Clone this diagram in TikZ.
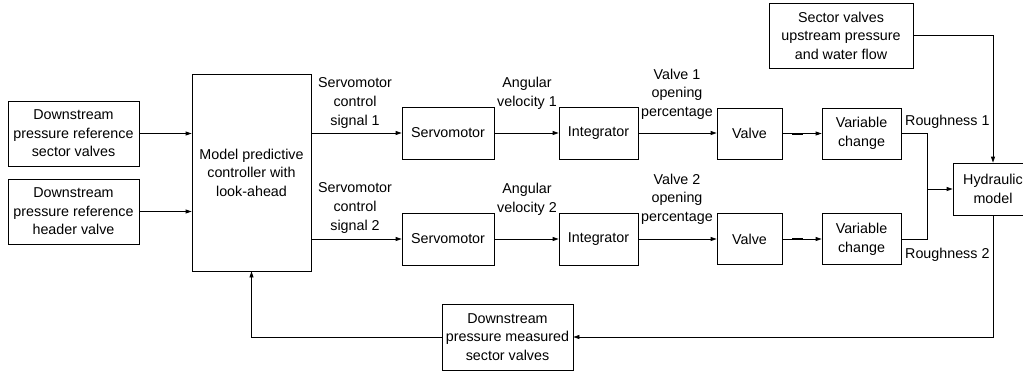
\documentclass[tikz,border=0pt]{standalone}
\usepackage{fontspec}
\setmainfont{Liberation Sans}
\usetikzlibrary{arrows.meta}
\begin{document}
\begin{tikzpicture}[x=1pt,y=-1pt,
  txt/.style={font=\fontsize{14.3}{18.6}\selectfont, align=center, inner sep=0pt},
  blk/.style={txt, draw, line width=0.8pt, minimum width=#1},
  blk/.default=80pt,
  wire/.style={line width=0.8pt},
  flow/.style={wire, -{Triangle[length=6pt,width=4pt]}}]
\clip (0,0) rectangle (1023,376);

% inputs and controller
\node[blk=131pt, minimum height=65pt] (ref1) at (73.5,133.5) {Downstream\\pressure reference\\sector valves};
\node[blk=131pt, minimum height=65pt] (ref2) at (73.5,211.5) {Downstream\\pressure reference\\header valve};
\node[blk=119pt, minimum height=197pt] (mpc) at (251.5,172.5) {Model predictive\\controller with\\look-ahead};

% actuator chain 1
\node[blk=92pt, minimum height=52pt] (servo1) at (448,133) {Servomotor};
\node[blk=79pt, minimum height=52pt] (integ1) at (598.5,133) {Integrator};
\node[blk=65pt, minimum height=51pt] (valve1) at (749.5,133.5) {Valve};
\node[blk=79pt, minimum height=51pt] (var1) at (861.5,133.5) {Variable\\change};

% actuator chain 2
\node[blk=92pt, minimum height=52pt] (servo2) at (448,239) {Servomotor};
\node[blk=79pt, minimum height=52pt] (integ2) at (598.5,239) {Integrator};
\node[blk=65pt, minimum height=51pt] (valve2) at (749.5,239) {Valve};
\node[blk=79pt, minimum height=51pt] (var2) at (861.5,239) {Variable\\change};

% plant and measurements
\node[blk=144pt, minimum height=65pt] (sector) at (841,35.5) {Sector valves\\upstream pressure\\and water flow};
\node[blk=80pt, minimum height=52pt] (hyd) at (993,189) {Hydraulic\\model};
\node[blk=131pt, minimum height=66pt] (meas) at (507.5,337) {Downstream\\pressure measured\\sector valves};

% signal labels
\node[txt] (l1) at (355,103) {Servomotor\\control\\signal 1};
\node[txt] (l2) at (527,93) {Angular\\velocity 1};
\node[txt] (l3) at (677,94) {Valve 1\\opening\\percentage};
\node[txt, anchor=west] (l4) at (905,122) {Roughness 1};
\node[txt] (l5) at (355,208) {Servomotor\\control\\signal 2};
\node[txt] (l6) at (527,199) {Angular\\velocity 2};
\node[txt] (l7) at (677,199) {Valve 2\\opening\\percentage};
\node[txt, anchor=west] (l8) at (905,255) {Roughness 2};

\coordinate (join) at (927,189);

% connectors
\draw[flow] (ref1.east) -- (ref1.east -| mpc.west);
\draw[flow] (ref2.east) -- (ref2.east -| mpc.west);
\draw[flow] (servo1.west -| mpc.east) -- (servo1.west);
\draw[flow] (servo2.west -| mpc.east) -- (servo2.west);
\draw[flow] (servo1) -- (integ1);
\draw[flow] (servo2) -- (integ2);
\draw[flow] (integ1.east) -- (integ1.east -| valve1.west);
\draw[flow] (integ2) -- (valve2);
\draw[flow] (valve1) -- (var1);
\draw[flow] (valve2) -- (var2);
\draw[line width=2pt] ([xshift=10pt]valve1.east) -- ++(11pt,0);
\draw[line width=2pt] ([xshift=10pt]valve2.east) -- ++(11pt,0);
\draw[wire] (var1.east) -| (join);
\draw[wire] (var2.east) -| (join);
\draw[flow] (join) -- (hyd.west);
\draw[flow] (sector.east) -| (hyd.north);
\draw[flow] (hyd.south) |- (meas.east);
\draw[flow] (meas.west) -| (mpc.south);
\end{tikzpicture}
\end{document}
